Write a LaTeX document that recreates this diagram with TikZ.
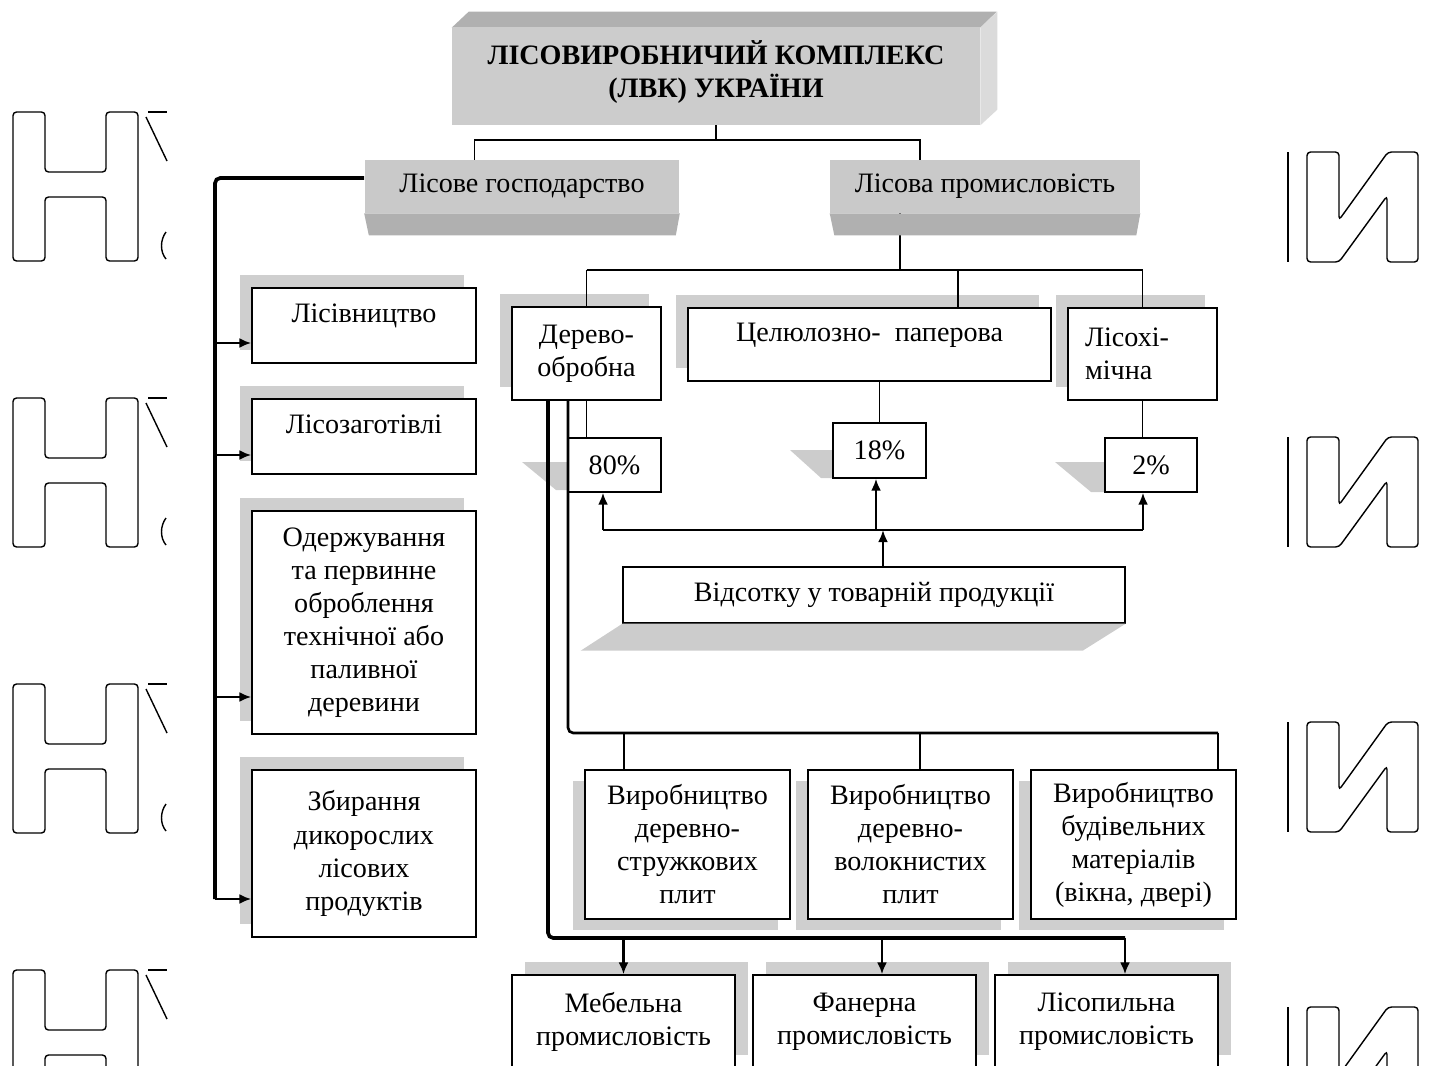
\documentclass[tikz,border=0pt]{standalone}
\usepackage{fontspec}
\setmainfont{Liberation Serif}[BoldFont={Liberation Serif Bold}]
\usetikzlibrary{shadows, arrows.meta}

\tikzset{
  wbox/.style={draw, line width=0.8pt, fill=white, align=center, inner sep=2pt},
  grayface/.style={fill=gray!42, minimum height=1.06cm, inner sep=2pt},
  raised/.style={text depth=0.5cm},
  ulshadow/.style={drop shadow={shadow xshift=-0.24cm, shadow yshift=0.26cm, opacity=1, fill=gray!38}},
  dlshadow/.style={drop shadow={shadow xshift=-0.24cm, shadow yshift=-0.22cm, opacity=1, fill=gray!38}},
  urshadow/.style={drop shadow={shadow xshift=0.26cm, shadow yshift=0.26cm, opacity=1, fill=gray!38}},
  wmark/.style={line width=0.8pt, rounded corners=2pt},
}

\begin{document}
\begin{tikzpicture}[x=0.02cm, y=-0.02cm,
    font=\fontsize{16}{18.8}\selectfont,
    conn/.style={line width=1.1pt},
    mid/.style={line width=1.5pt, rounded corners=3pt},
    bus/.style={line width=2.1pt, rounded corners=3pt},
    arr/.style={line width=1.4pt, -{Latex[length=0.24cm, width=0.2cm]}}]
  \useasboundingbox (0,0) rectangle (1436,1065);
  \clip (0,0) rectangle (1436,1065);

  % watermark letters at the sides
  \foreach \k in {0,...,3}{
    \begin{scope}[shift={(0,\k*286)}]
      \draw[wmark] (13,112) -- (45,112) -- (45,172) -- (106,172) -- (106,112) -- (138,112)
        -- (138,261) -- (106,261) -- (106,197) -- (45,197) -- (45,261) -- (13,261) -- cycle;
      \draw[wmark] (148,112) -- (167,112);
      \draw[wmark] (146,117) -- (167,161);
      \draw[line width=0.8pt] (166,232) .. controls (160,240) and (160,252) .. (166,259);
    \end{scope}
    \begin{scope}[shift={(0,\k*285)}]
      \draw[line width=0.8pt] (1288,152) -- (1288,262);
      \draw[wmark] (1307,152) -- (1339,152) -- (1339,220) -- (1388,152) -- (1418,152)
        -- (1418,262) -- (1387,262) -- (1387,196) -- (1339,262) -- (1307,262) -- cycle;
    \end{scope}
  }

  % top
  \node[fill=gray!40, minimum width=10.56cm, minimum height=1.94cm, align=center,
        font=\fontsize{16}{18.8}\selectfont\bfseries] (title) at (716,76.5)
        {ЛІСОВИРОБНИЧИЙ КОМПЛЕКС\\(ЛВК) УКРАЇНИ\\[-0.38cm]};
  \fill[gray!62] (title.north west) -- ++(17,-16) -- ++(528,0) -- (title.north east) -- cycle;
  \fill[gray!28] (title.north east) -- ++(17,-16) -- ++(0,98) -- (title.south east) -- cycle;

  \node[grayface, minimum width=6.3cm] (lisgosp) at (522,186.5) {Лісове господарство};
  \node[grayface, minimum width=6.2cm] (lisprom) at (985,186.5) {Лісова промисловість};

  \draw[conn] (title.south) -- ++(0,15) coordinate (tj);
  \coordinate (g1) at ([xshift=-0.95cm]lisgosp.north);
  \coordinate (g2) at ([xshift=-1.3cm]lisprom.north);
  \draw[conn] (g1) |- (tj) -| (g2);

  % left branch
  \node[wbox, ulshadow, raised, minimum width=4.48cm, minimum height=1.5cm] (lisiv) at (364,325.5) {Лісівництво};
  \node[wbox, ulshadow, raised, minimum width=4.48cm, minimum height=1.5cm] (zagot) at (364,436.5) {Лісозаготівлі};
  \node[wbox, ulshadow, minimum width=4.48cm, minimum height=4.46cm] (oderzh) at (364,622.5)
    {Одержування\\та первинне\\оброблення\\технічної або\\паливної\\деревини};
  \node[wbox, ulshadow, minimum width=4.48cm, minimum height=3.34cm] (zbyr) at (364,853.5)
    {Збирання\\дикорослих\\лісових\\продуктів};

  \coordinate (busend) at (215,899);
  \draw[bus] ([yshift=0.17cm]lisgosp.west) -| (busend);
  \coordinate (a1) at ([yshift=-0.35cm]lisiv.west);
  \coordinate (a2) at ([yshift=-0.37cm]zagot.west);
  \coordinate (a3) at ([yshift=-1.49cm]oderzh.west);
  \coordinate (a4) at ([yshift=-0.91cm]zbyr.west);
  \foreach \a in {a1,a2,a3,a4}
    \draw[arr] (\a -| busend) -- (\a);

  % right branch
  \node[wbox, ulshadow, minimum width=2.98cm, minimum height=1.86cm] (derevo) at (586.5,353.5) {Дерево-\\обробна};
  \node[wbox, ulshadow, raised, minimum width=7.26cm, minimum height=1.46cm] (cellul) at (869.5,344.5) {Целюлозно-\ \ паперова};
  \node[wbox, ulshadow, align=left, text width=2.3cm, inner xsep=0.34cm, minimum height=1.84cm] (lisochim) at (1142.5,354) {Лісохі-\\мічна};

  \draw[conn] ([xshift=-1.7cm]lisprom.south) -- ++(0,57) coordinate (lj);
  \draw[conn] (derevo.north |- lj) -- (lisochim.north |- lj);
  \coordinate (c1) at ([xshift=1.77cm]cellul.north);
  \draw[conn] (derevo.north |- lj) -- (derevo.north);
  \draw[conn] (c1 |- lj) -- (c1);
  \draw[conn] (lisochim.north |- lj) -- (lisochim.north);

  % bottom faces of the grey boxes
  \fill[gray!62] (lisgosp.south west) -- (lisgosp.south east) -- ++(-4,22) -- ++(-307,0) -- cycle;
  \fill[gray!62] (lisprom.south west) -- (lisprom.south east) -- ++(-4,22) -- ++(-302,0) -- cycle;

  % shares
  \fill[gray!40] (568,462) -- ++(-46,0) -- ++(34,28) -- ++(12,0) -- cycle;
  \fill[gray!40] (833,450) -- ++(-43,0) -- ++(31,28) -- ++(12,0) -- cycle;
  \fill[gray!40] (1105,462) -- ++(-50,0) -- ++(36,30) -- ++(14,0) -- cycle;
  \node[wbox, minimum width=1.86cm, minimum height=1.08cm] (p80) at (614.5,465) {80\%};
  \node[wbox, minimum width=1.86cm, minimum height=1.1cm] (p18) at (879.5,450.5) {18\%};
  \node[wbox, minimum width=1.84cm, minimum height=1.08cm] (p2) at (1151,465) {2\%};

  \draw[conn] (derevo.south) -- (derevo.south |- p80.north);
  \draw[conn] (p18.north |- cellul.south) -- (p18.north);
  \draw[conn] (lisochim.south) -- (lisochim.south |- p2.north);

  \node[wbox, minimum width=10.04cm, minimum height=1.12cm] (vids) at (874,595) {Відсотку у товарній продукції};
  \fill[gray!40] (vids.south west) -- (vids.south east) -- ++(-43,27) -- ++(-502,0) -- cycle;

  \coordinate (pl) at (603,530);
  \coordinate (pr) at (1143,530);
  \draw[conn] (pl) -- (pr);
  \draw[arr] (pl) -- (pl |- p80.south);
  \draw[arr] (pr) -- (pr |- p2.south);
  \coordinate (q18) at ([xshift=-0.07cm]p18.south);
  \draw[arr] (q18 |- pl) -- (q18);
  \coordinate (qv) at ([xshift=0.18cm]vids.north);
  \draw[arr] (qv) -- (qv |- pl);

  % wood processing
  \node[wbox, dlshadow, minimum width=4.1cm, minimum height=2.98cm] (vyrob1) at (687.5,844.5)
    {Виробництво\\деревно-\\стружкових\\плит};
  \node[wbox, dlshadow, minimum width=4.1cm, minimum height=2.98cm] (vyrob2) at (910.5,844.5)
    {Виробництво\\деревно-\\волокнистих\\плит};
  \node[wbox, dlshadow, minimum width=4.1cm, minimum height=2.98cm] (vyrob3) at (1133.5,844.5)
    {Виробництво\\будівельних\\матеріалів\\(вікна, двері)};

  \coordinate (dv1) at ([xshift=-0.37cm]derevo.south);
  \coordinate (vb) at (1218,733);
  \draw[mid] (dv1) |- (vb);
  \coordinate (v1) at ([xshift=-1.27cm]vyrob1.north);
  \coordinate (v2) at ([xshift=0.19cm]vyrob2.north);
  \draw[conn] (v1 |- vb) -- (v1);
  \draw[conn] (v2 |- vb) -- (v2);
  \draw[conn] (vb) -- (vb |- vyrob3.north);

  \node[wbox, urshadow, minimum width=4.46cm, minimum height=1.86cm] (mebel) at (623.5,1021.5)
    {Мебельна\\промисловість};
  \node[wbox, urshadow, minimum width=4.46cm, minimum height=1.86cm] (faner) at (864.5,1021.5)
    {Фанерна\\промисловість};
  \node[wbox, urshadow, minimum width=4.46cm, minimum height=1.86cm] (lisopyl) at (1106.5,1021.5)
    {Лісопильна\\промисловість};

  \coordinate (dv2) at ([xshift=-0.77cm]derevo.south);
  \coordinate (mb) at (1125,938);
  \draw[bus] (dv2) |- (mb);
  \coordinate (f1) at ([xshift=0.35cm]faner.north);
  \draw[arr] (mebel.north |- mb) -- (mebel.north);
  \draw[arr] (f1 |- mb) -- (f1);
  \draw[arr] (mb) -- (mb |- lisopyl.north);
\end{tikzpicture}
\end{document}
